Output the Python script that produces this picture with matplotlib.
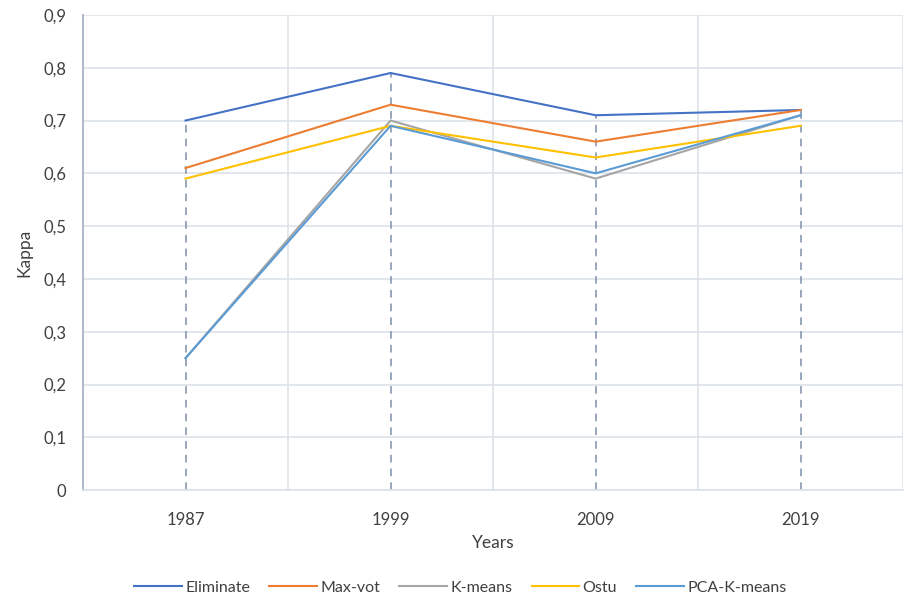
import numpy as np
import matplotlib.pyplot as plt
from matplotlib.ticker import FuncFormatter

plt.rcParams['font.family'] = ['Lato', 'DejaVu Sans']

years = ['1987', '1999', '2009', '2019']
eliminate = [0.70, 0.79, 0.71, 0.72]
max_vot = [0.61, 0.73, 0.66, 0.72]
k_means = [0.25, 0.70, 0.59, 0.71]
ostu = [0.59, 0.69, 0.63, 0.69]
pca_k_means = [0.25, 0.69, 0.60, 0.71]

series = [
    ('Eliminate', eliminate, '#4472C4'),
    ('Max-vot', max_vot, '#ED7D31'),
    ('K-means', k_means, '#A5A5A5'),
    ('Ostu', ostu, '#FFC000'),
    ('PCA-K-means', pca_k_means, '#5B9BD5'),
]

x = np.arange(len(years))
top = np.max([s[1] for s in series], axis=0)

fig = plt.figure(figsize=(9.05, 5.97), dpi=100)
ax = fig.add_axes([0.0917, 0.179, 0.9063, 0.796])

# drop lines from the highest value down to the axis
ax.vlines(x, 0, top, colors='#7e8ea8', linestyles=(0, (5, 4)), linewidth=1.1, zorder=2)

for name, vals, col in series:
    ax.plot(x, vals, color=col, linewidth=1.5, label=name, zorder=3)

ax.set_xlim(-0.5, 3.5)
ax.set_ylim(0, 0.9)
ax.set_yticks(np.arange(0, 0.91, 0.1))
ax.yaxis.set_major_formatter(FuncFormatter(lambda v, p: '0' if abs(v) < 1e-9 else f'{v:.1f}'.replace('.', ',')))
ax.set_xticks(x)
ax.set_xticklabels(years)
ax.set_xticks(np.arange(-0.5, 3.6, 1), minor=True)

ax.grid(True, axis='y', which='major', color='#dde2ea', linewidth=1.2)
ax.grid(True, axis='x', which='minor', color='#dde2ea', linewidth=1.2)
ax.set_axisbelow(True)
ax.tick_params(which='both', length=0, colors='#404040', labelsize=12)
ax.tick_params(axis='x', pad=16)
ax.tick_params(axis='y', pad=12)

for s in ['top', 'right']:
    ax.spines[s].set_visible(False)
ax.spines['left'].set_color('#aeb8cc')
ax.spines['left'].set_linewidth(1.4)
ax.spines['bottom'].set_color('#dde2ea')
ax.spines['bottom'].set_linewidth(1.2)

ax.set_xlabel('Years', fontsize=12.5, color='#404040', labelpad=5)
ax.set_ylabel('Kappa', fontsize=12.5, color='#404040', labelpad=8)

ax.legend(loc='upper center', bbox_to_anchor=(0.46, -0.16), ncol=5, frameon=False,
          fontsize=11.5, labelcolor='#404040', handlelength=3.0, columnspacing=1.2,
          handletextpad=0.2)

fig.savefig('out.png', dpi=100)
